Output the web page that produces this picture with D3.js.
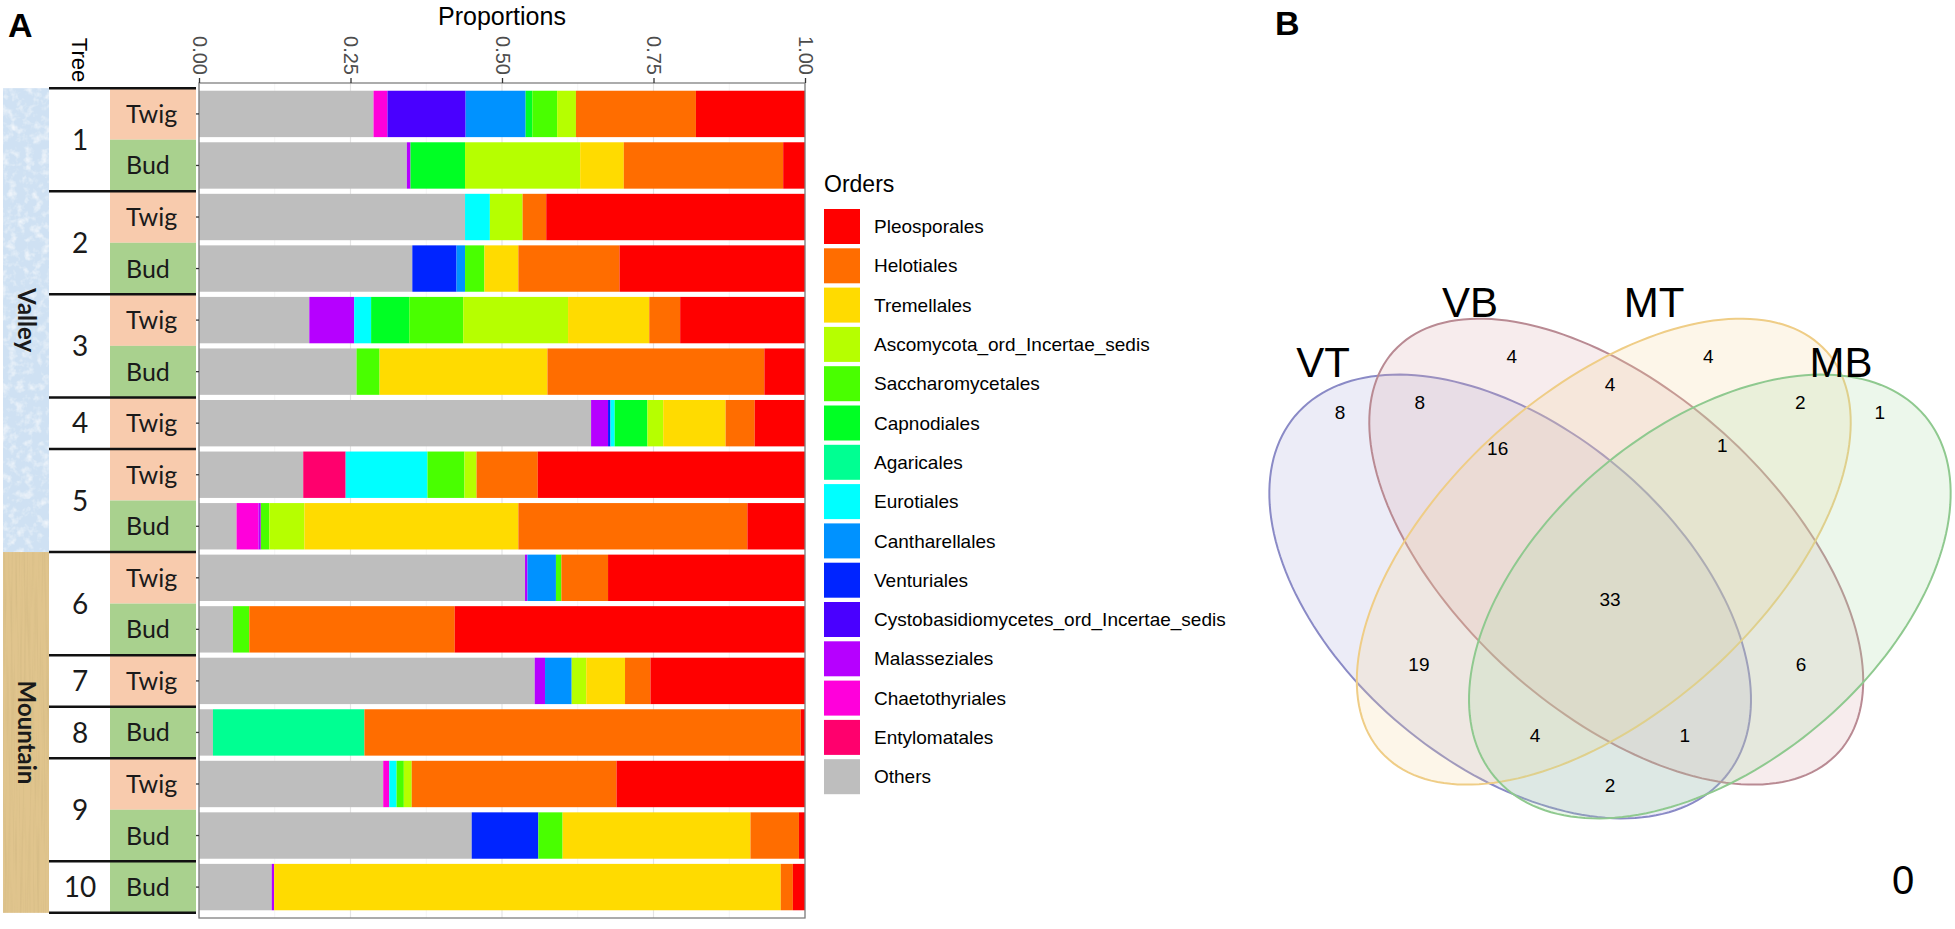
<!DOCTYPE html>
<html>
<head>
<meta charset="utf-8">
<script src="https://cdn.jsdelivr.net/npm/d3@7"></script>
<style>
  body { margin: 0; background: #fff; }
  text { font-family: "Liberation Sans", Arial, sans-serif; }
  .tbl text { font-family: Lato, "Open Sans", sans-serif; }
</style>
</head>
<body>
<div id="chart"></div>
<script>
const width = 1955;
const height = 929;

// ---- data, panel A ----
const orders = ["Pleosporales", "Helotiales", "Tremellales", "Ascomycota_ord_Incertae_sedis",
  "Saccharomycetales", "Capnodiales", "Agaricales", "Eurotiales", "Cantharellales", "Venturiales",
  "Cystobasidiomycetes_ord_Incertae_sedis", "Malasseziales", "Chaetothyriales", "Entylomatales", "Others"];
const orderColors = ["#FF0000", "#FF6D00", "#FFDB00", "#B6FF00", "#49FF00", "#00FF24", "#00FF92",
  "#00FFFF", "#0092FF", "#0024FF", "#4900FF", "#B600FF", "#FF00DB", "#FF006D", "#BEBEBE"];

const trees   = ["1", "1", "2", "2", "3", "3", "4", "5", "5", "6", "6", "7", "8", "9", "9", "10"];
const tissues = ["Twig", "Bud", "Twig", "Bud", "Twig", "Bud", "Twig", "Twig", "Bud", "Twig", "Bud", "Twig", "Bud", "Twig", "Bud", "Bud"];
const sites   = ["Valley", "Valley", "Valley", "Valley", "Valley", "Valley", "Valley", "Valley", "Valley",
  "Mountain", "Mountain", "Mountain", "Mountain", "Mountain", "Mountain", "Mountain"];
const xTicks = [0, 0.25, 0.5, 0.75, 1];

// proportions per order, one value per sample (same order as trees)
const pleosporales    = [0.180, 0.036, 0.427, 0.306, 0.206, 0.067, 0.083, 0.441, 0.095, 0.325, 0.578, 0.255, 0.007, 0.311, 0.010, 0.020];
const helotiales      = [0.198, 0.263, 0.039, 0.167, 0.051, 0.358, 0.048, 0.101, 0.378, 0.077, 0.339, 0.042, 0.720, 0.338, 0.080, 0.020];
const tremellales     = [0, 0.072, 0, 0.056, 0.134, 0.277, 0.103, 0, 0.353, 0, 0, 0.064, 0, 0, 0.310, 0.836];
const ascomycotaInc   = [0.031, 0.190, 0.054, 0, 0.173, 0, 0.026, 0.020, 0.058, 0, 0, 0.024, 0, 0.013, 0, 0];
const saccharomyc     = [0.041, 0, 0, 0.032, 0.089, 0.038, 0, 0.061, 0.014, 0.009, 0.027, 0, 0, 0.012, 0.040, 0];
const capnodiales     = [0.011, 0.090, 0, 0, 0.063, 0, 0.054, 0, 0, 0, 0, 0, 0, 0, 0, 0];
const agaricales      = [0, 0, 0, 0, 0, 0, 0, 0, 0, 0, 0, 0, 0.250, 0, 0, 0];
const eurotiales      = [0, 0, 0.041, 0, 0.028, 0, 0.007, 0.135, 0, 0, 0, 0, 0, 0.012, 0, 0];
const cantharellales  = [0.099, 0, 0, 0.014, 0, 0, 0, 0, 0, 0.047, 0, 0.044, 0, 0, 0, 0];
const venturiales     = [0, 0, 0, 0.073, 0, 0, 0.004, 0, 0, 0, 0, 0, 0, 0, 0.110, 0];
const cystobasidioInc = [0.129, 0, 0, 0, 0, 0, 0, 0, 0, 0, 0, 0, 0, 0, 0, 0];
const malasseziales   = [0, 0.006, 0, 0, 0.074, 0, 0.028, 0, 0.004, 0.004, 0, 0.017, 0, 0, 0, 0.004];
const chaetothyriales = [0.023, 0, 0, 0, 0, 0, 0, 0, 0.036, 0, 0, 0, 0, 0.010, 0, 0];
const entylomatales   = [0, 0, 0, 0, 0, 0, 0, 0.070, 0, 0, 0, 0, 0, 0, 0, 0];
const others          = [0.288, 0.343, 0.439, 0.352, 0.182, 0.260, 0.647, 0.172, 0.062, 0.538, 0.056, 0.554, 0.023, 0.304, 0.450, 0.120];

const orderValues = [pleosporales, helotiales, tremellales, ascomycotaInc, saccharomyc, capnodiales,
  agaricales, eurotiales, cantharellales, venturiales, cystobasidioInc, malasseziales,
  chaetothyriales, entylomatales, others];

// ---- data, panel B ----
const vennSets = ["VT", "VB", "MT", "MB"];
const vennRegions = [["VT"], ["VB"], ["MT"], ["MB"], ["VT", "VB"], ["VB", "MT"], ["MT", "MB"],
  ["VT", "MT"], ["VB", "MB"], ["VT", "MB"], ["VT", "VB", "MT"], ["VB", "MT", "MB"],
  ["VT", "MT", "MB"], ["VT", "VB", "MB"], ["VT", "VB", "MT", "MB"]];
const vennCounts = [8, 4, 4, 1, 8, 4, 2, 19, 6, 2, 16, 1, 4, 1, 33];
const vennOutside = 0;

const svg = d3.select("#chart")
  .append("svg")
  .attr("width", width)
  .attr("height", height);

// paper-like textures for the Valley / Mountain strips
const defs = svg.append("defs");
const texValley = defs.append("filter").attr("id", "tex-valley")
  .attr("x", 0).attr("y", 0).attr("width", 1).attr("height", 1);
texValley.append("feTurbulence").attr("type", "fractalNoise")
  .attr("baseFrequency", "0.12").attr("numOctaves", 3).attr("seed", 4).attr("result", "noise");
texValley.append("feColorMatrix").attr("in", "noise").attr("type", "matrix")
  .attr("values", "0 0 0 0 1  0 0 0 0 1  0 0 0 0 1  1.6 0 0 0 -0.75").attr("result", "spots");
texValley.append("feComposite").attr("in", "spots").attr("in2", "SourceGraphic")
  .attr("operator", "in").attr("result", "spotsIn");
const mv = texValley.append("feMerge");
mv.append("feMergeNode").attr("in", "SourceGraphic");
mv.append("feMergeNode").attr("in", "spotsIn");

const texMountain = defs.append("filter").attr("id", "tex-mountain")
  .attr("x", 0).attr("y", 0).attr("width", 1).attr("height", 1);
texMountain.append("feTurbulence").attr("type", "fractalNoise")
  .attr("baseFrequency", "0.45 0.012").attr("numOctaves", 2).attr("seed", 7).attr("result", "noise");
texMountain.append("feColorMatrix").attr("in", "noise").attr("type", "matrix")
  .attr("values", "0 0 0 0 0.62  0 0 0 0 0.47  0 0 0 0 0.22  1.3 0 0 0 -0.55").attr("result", "streaks");
texMountain.append("feComposite").attr("in", "streaks").attr("in2", "SourceGraphic")
  .attr("operator", "in").attr("result", "streaksIn");
const mm = texMountain.append("feMerge");
mm.append("feMergeNode").attr("in", "SourceGraphic");
mm.append("feMergeNode").attr("in", "streaksIn");

// ================= panel A =================
const x = d3.scaleLinear().domain([0, 1]).range([199, 805]);
const y = d3.scaleBand()
  .domain(d3.range(trees.length))
  .range([83, 918])
  .paddingInner(0.1)
  .paddingOuter(0.15);
const color = d3.scaleOrdinal().domain(orders).range(orderColors);

svg.append("text")
  .attr("x", 8).attr("y", 37)
  .attr("font-size", 34).attr("font-weight", "bold")
  .text("A");

svg.append("text")
  .attr("x", (x(0) + x(1)) / 2).attr("y", 25)
  .attr("text-anchor", "middle")
  .attr("font-size", 25)
  .text("Proportions");

// grid
svg.append("g")
  .selectAll("line")
  .data(d3.range(0, 1.0001, 0.125))
  .join("line")
  .attr("x1", d => x(d)).attr("x2", d => x(d))
  .attr("y1", 83).attr("y2", 918)
  .attr("stroke", (d, i) => i % 2 ? "#f3f3f3" : "#e4e4e4")
  .attr("stroke-width", (d, i) => i % 2 ? 0.8 : 1.2);

// stacked bars, "Others" on the left, Pleosporales on the right
const rows = trees.map((t, i) => {
  const r = { index: i };
  orders.forEach((o, k) => { r[o] = orderValues[k][i]; });
  return r;
});
const stacked = d3.stack().keys(orders.slice().reverse())(rows);

svg.append("g")
  .selectAll("g")
  .data(stacked)
  .join("g")
  .attr("fill", d => color(d.key))
  .selectAll("rect")
  .data(d => d)
  .join("rect")
  .attr("x", d => x(d[0]))
  .attr("y", d => y(d.data.index))
  .attr("width", d => Math.max(0, x(d[1]) - x(d[0])))
  .attr("height", y.bandwidth());

// panel border
svg.append("rect")
  .attr("x", x(0)).attr("y", 83)
  .attr("width", x(1) - x(0)).attr("height", 918 - 83)
  .attr("fill", "none")
  .attr("stroke", "#808080")
  .attr("stroke-width", 1.3);

// top axis
const xAxis = svg.append("g")
  .attr("transform", "translate(0,83)")
  .call(d3.axisTop(x).tickValues(xTicks).tickFormat(d3.format(".2f")).tickSize(5).tickSizeOuter(0));
xAxis.select(".domain").remove();
xAxis.selectAll(".tick line").attr("stroke", "#333").attr("stroke-width", 1.3);
xAxis.selectAll(".tick text")
  .attr("x", 0).attr("y", 0).attr("dy", "0.35em")
  .attr("transform", "translate(0,-8) rotate(90)")
  .attr("text-anchor", "end")
  .attr("font-size", 20)
  .attr("font-family", "Liberation Sans, Arial, sans-serif")
  .attr("fill", "#4d4d4d");

// left ticks
const yAxis = svg.append("g")
  .attr("transform", `translate(${x(0)},0)`)
  .call(d3.axisLeft(y).tickSize(4).tickFormat(""));
yAxis.select(".domain").remove();
yAxis.selectAll(".tick line").attr("stroke", "#333").attr("stroke-width", 1.3);

// legend
const legend = svg.append("g").attr("transform", "translate(824,0)");
legend.append("text")
  .attr("x", 0).attr("y", 192)
  .attr("font-size", 23)
  .text("Orders");
const leg = legend.selectAll("g.key")
  .data(orders)
  .join("g")
  .attr("class", "key")
  .attr("transform", (d, i) => `translate(0,${209 + i * 39.3})`);
leg.append("rect")
  .attr("width", 36).attr("height", 35)
  .attr("fill", d => color(d));
leg.append("text")
  .attr("x", 50).attr("y", 17.5).attr("dy", "0.35em")
  .attr("font-size", 19)
  .text(d => d);

// ---- sample table on the left ----
const step = y.step();
const rowTop = i => y(i) - step * (y.paddingInner() / 2);
const tbl = svg.append("g").attr("class", "tbl");

const siteGroups = d3.groups(d3.range(trees.length), i => sites[i]);
tbl.selectAll("rect.site")
  .data(siteGroups)
  .join("rect")
  .attr("class", "site")
  .attr("x", 3).attr("width", 46)
  .attr("y", d => rowTop(d[1][0]))
  .attr("height", d => d[1].length * step)
  .attr("fill", d => d[0] === "Valley" ? "#cfe1f3" : "#e0c48d")
  .attr("filter", d => d[0] === "Valley" ? "url(#tex-valley)" : "url(#tex-mountain)");
tbl.selectAll("text.site")
  .data(siteGroups)
  .join("text")
  .attr("class", "site")
  .attr("transform", d => `translate(26,${rowTop(d[1][0]) + d[1].length * step / 2}) rotate(90)`)
  .attr("text-anchor", "middle").attr("dy", "0.35em")
  .attr("font-size", 24).attr("font-weight", "bold")
  .attr("fill", "#1a1a1a")
  .text(d => d[0]);

tbl.selectAll("rect.tissue")
  .data(d3.range(trees.length))
  .join("rect")
  .attr("class", "tissue")
  .attr("x", 110).attr("width", 86)
  .attr("y", i => rowTop(i))
  .attr("height", step)
  .attr("fill", i => tissues[i] === "Twig" ? "#f8cbad" : "#a9d18e");
tbl.selectAll("text.tissue")
  .data(d3.range(trees.length))
  .join("text")
  .attr("class", "tissue")
  .attr("x", 126)
  .attr("y", i => y(i) + y.bandwidth() / 2)
  .attr("dy", "0.36em")
  .attr("font-size", 25)
  .attr("fill", "#1a1a1a")
  .text(i => tissues[i]);

const treeGroups = d3.groups(d3.range(trees.length), i => trees[i]);
tbl.selectAll("text.tree")
  .data(treeGroups)
  .join("text")
  .attr("class", "tree")
  .attr("x", 80)
  .attr("y", d => rowTop(d[1][0]) + d[1].length * step / 2)
  .attr("dy", "0.36em")
  .attr("text-anchor", "middle")
  .attr("font-size", 28)
  .attr("fill", "#1a1a1a")
  .text(d => d[0]);

const borders = treeGroups.map(d => rowTop(d[1][0])).concat([rowTop(trees.length - 1) + step]);
tbl.selectAll("line.border")
  .data(borders)
  .join("line")
  .attr("x1", 49).attr("x2", 196)
  .attr("y1", d => d).attr("y2", d => d)
  .attr("stroke", "#111")
  .attr("stroke-width", 2.5);

svg.append("text")
  .attr("transform", "translate(80,60) rotate(90)")
  .attr("text-anchor", "middle").attr("dy", "0.35em")
  .attr("font-size", 22)
  .text("Tree");

// ================= panel B =================
svg.append("text")
  .attr("x", 1275).attr("y", 35)
  .attr("font-size", 34).attr("font-weight", "bold")
  .text("B");

// diagram units: 1 unit = 780 px, centre line of the diagram at x = 0.5
const vx = d3.scaleLinear().domain([0, 1]).range([1220, 2000]);
const vy = d3.scaleLinear().domain([0, 1]).range([990, 210]);

const ellipses = [
  { set: "VT", cx: 0.372, cy: 0.5045, a: 0.360, b: 0.216, rot: 140, stroke: "#8a8ac6", fill: "#a8a8dc" },
  { set: "VB", cx: 0.508, cy: 0.562,  a: 0.384, b: 0.205, rot: 138, stroke: "#b98a93", fill: "#d9a7ae" },
  { set: "MT", cx: 0.492, cy: 0.562,  a: 0.384, b: 0.205, rot: 42,  stroke: "#efcd86", fill: "#f6d49c" },
  { set: "MB", cx: 0.628, cy: 0.5045, a: 0.360, b: 0.216, rot: 40,  stroke: "#8fc98f", fill: "#a9d9a3" }
];

// where each region count is written, same order as vennRegions
const vennLabelPos = [[0.154, 0.741], [0.374, 0.813], [0.626, 0.813], [0.846, 0.741],
  [0.256, 0.754], [0.500, 0.777], [0.744, 0.754], [0.255, 0.418], [0.745, 0.418],
  [0.500, 0.262], [0.356, 0.694], [0.644, 0.698], [0.404, 0.326], [0.596, 0.326], [0.500, 0.501]];
const catLabelPos = { VT: [1323, 362], VB: [1470, 302], MT: [1654, 302], MB: [1841, 362] };

const ellipsePoints = e => {
  const th = e.rot * Math.PI / 180;
  return d3.range(0, 360, 2).map(t => {
    const p = t * Math.PI / 180;
    const u = e.a * Math.cos(p), v = e.b * Math.sin(p);
    return [e.cx + u * Math.cos(th) - v * Math.sin(th), e.cy + u * Math.sin(th) + v * Math.cos(th)];
  });
};

const ellipseLine = d3.line()
  .x(p => vx(p[0]))
  .y(p => vy(p[1]))
  .curve(d3.curveLinearClosed);

svg.append("g")
  .selectAll("path")
  .data(ellipses)
  .join("path")
  .attr("d", e => ellipseLine(ellipsePoints(e)))
  .attr("fill", e => e.fill)
  .attr("fill-opacity", 0.22)
  .attr("stroke", e => e.stroke)
  .attr("stroke-width", 2);

svg.append("g")
  .selectAll("text")
  .data(vennRegions)
  .join("text")
  .attr("x", (r, i) => vx(vennLabelPos[i][0]))
  .attr("y", (r, i) => vy(vennLabelPos[i][1]))
  .attr("dy", "0.35em")
  .attr("text-anchor", "middle")
  .attr("font-size", 19)
  .text((r, i) => vennCounts[i]);

svg.append("g")
  .selectAll("text")
  .data(vennSets)
  .join("text")
  .attr("x", d => catLabelPos[d][0])
  .attr("y", d => catLabelPos[d][1])
  .attr("dy", "0.35em")
  .attr("text-anchor", "middle")
  .attr("font-size", 42)
  .text(d => d);

svg.append("text")
  .attr("x", 1903).attr("y", 880)
  .attr("dy", "0.35em")
  .attr("text-anchor", "middle")
  .attr("font-size", 40)
  .text(vennOutside);
</script>
</body>
</html>
